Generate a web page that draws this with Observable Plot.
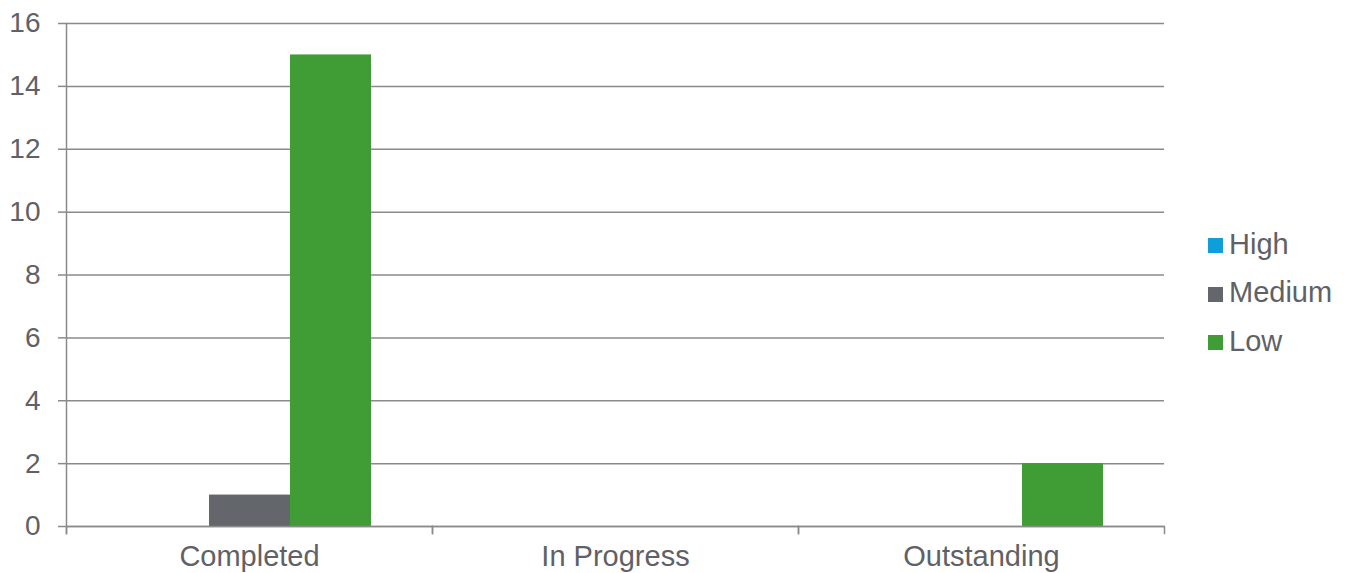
<!DOCTYPE html>
<html>
<head>
<meta charset="utf-8">
<script src="https://cdn.jsdelivr.net/npm/d3@7"></script>
<script src="https://cdn.jsdelivr.net/npm/@observablehq/plot@0.6"></script>
<style>
  html, body { margin: 0; padding: 0; background: #fff; }
  #wrap { position: relative; width: 1345px; height: 573px; overflow: hidden; font-family: "Liberation Sans", Arial, sans-serif; }
  #legend { position: absolute; left: 1208px; top: 220px; color: #5f6166; font-size: 29px; }
  .item { display: flex; align-items: center; height: 48.5px; line-height: 1; }
  .sw { width: 15px; height: 15px; margin-right: 6px; margin-top: 3px; }
</style>
</head>
<body>
<div id="wrap"><div id="legend"></div></div>
<script>
const categories = ["Completed", "In Progress", "Outstanding"];
const priorities = ["High", "Medium", "Low"];
const highValues = [0, 0, 0];
const mediumValues = [1, 0, 0];
const lowValues = [15, 0, 2];
const yTicks = [0, 2, 4, 6, 8, 10, 12, 14, 16];
const colors = ["#0E9ED8", "#63666A", "#409C35"];

const series = [highValues, mediumValues, lowValues];
const data = [];
categories.forEach((c, i) => {
  priorities.forEach((p, j) => {
    data.push({category: c, priority: p, value: series[j][i]});
  });
});

const gridColor = "#8a8a8a";
const textColor = "#5f6166";
const plotH = 573 - 23 - 47;

const chart = Plot.plot({
  width: 1345,
  height: 573,
  marginLeft: 65,
  marginRight: 180,
  marginTop: 23,
  marginBottom: 47,
  style: {fontFamily: '"Liberation Sans", Arial, sans-serif', fontSize: "29px", background: "white", color: textColor},
  fx: {domain: categories, padding: 0, axis: null, label: null},
  x: {domain: priorities, paddingInner: 0, paddingOuter: 0.75, axis: null},
  y: {domain: [0, 16], axis: null},
  color: {domain: priorities, range: colors},
  marks: [
    Plot.ruleY(yTicks, {stroke: gridColor, strokeWidth: 1.5}),
    Plot.barY(data, {fx: "category", x: "priority", y: "value", fill: "priority"}),
    Plot.ruleY([0], {stroke: gridColor, strokeWidth: 1.5}),
    Plot.axisY({ticks: yTicks, tickSize: 8, tickPadding: 18, stroke: gridColor, strokeWidth: 1.5, fill: textColor, fontSize: 28, label: null, tickFormat: d => String(d)}),
    Plot.axisFx({anchor: "bottom", tickSize: 0, tickPadding: 19, fill: textColor, fontSize: 29, label: null}),
    Plot.frame({anchor: "left", insetTop: plotH, insetBottom: -7, stroke: gridColor, strokeWidth: 1.5}),
    Plot.frame({anchor: "right", insetTop: plotH, insetBottom: -7, stroke: gridColor, strokeWidth: 1.5}),
    Plot.frame({anchor: "left", facetAnchor: "left", insetBottom: -7, stroke: gridColor, strokeWidth: 1.5})
  ]
});
document.getElementById("wrap").prepend(chart);

const legend = document.getElementById("legend");
priorities.forEach((p, i) => {
  const item = document.createElement("div");
  item.className = "item";
  const sw = document.createElement("span");
  sw.className = "sw";
  sw.style.background = colors[i];
  const t = document.createElement("span");
  t.textContent = p;
  item.append(sw, t);
  legend.append(item);
});
</script>
</body>
</html>
